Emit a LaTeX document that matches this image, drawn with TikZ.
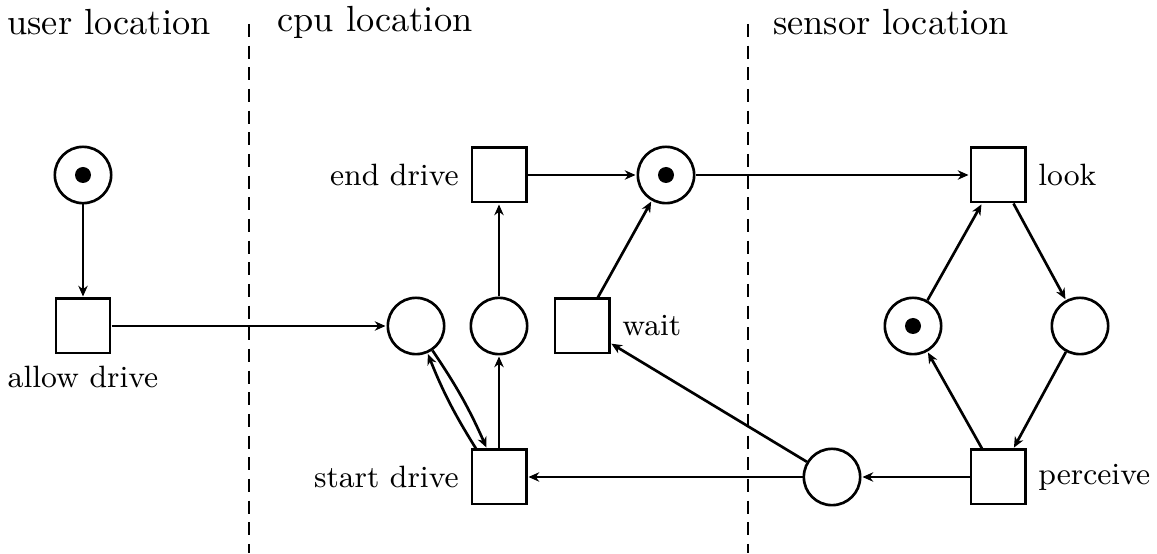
\documentclass[tikz,border=0pt]{standalone}
\usetikzlibrary{arrows.meta}
\tikzset{place/.style={
  circle,
  draw,thick,
  inner sep=0pt,minimum size=16.9pt}}
\tikzset{transition/.style={
  rectangle,
  draw,thick,
  inner sep=0pt,minimum size=16.3pt}}
\tikzset{token/.style={
  circle,fill,inner sep=0pt,minimum size=4.8pt}}
\tikzset{>={Stealth[length=3.2pt,width=2.8pt,inset=1pt]}}
\tikzset{shorten >=0.3pt}

\begin{document}
\begin{tikzpicture}[x={(0.3pt,0pt)},y={(0pt,-0.3pt)},
    font=\fontsize{10.9pt}{13pt}\selectfont,
    every label/.style={font=\fontsize{9.25pt}{11pt}\selectfont}]
  \useasboundingbox (0,0) rectangle (1157,554);
  % locations
  \foreach \n/\p/\l in {
      user/{(109,22)}/{user location},
      cpu/{(375,22)}/{cpu location},
      sensor/{(891,22)}/{sensor location}}
    \node (\n) at \p {\l};
  \draw[thick,dash pattern=on 3.9pt off 2.6pt] (249,24) -- (249,554);
  \draw[thick,dash pattern=on 3.9pt off 2.6pt] (748,24) -- (748,554);
  % places
  \foreach \n/\p in {
      pu/{(83,175)}, pa/{(416,326)}, pb/{(499,326)}, pc/{(666,175)},
      pd/{(913,326)}, pe/{(1080,326)}, pf/{(832,477)}}
    \node[place] (\n) at \p {};
  \foreach \n in {pu,pc,pd}
    \node[token] at (\n) {};
  % transitions
  \foreach \n/\p/\d/\l in {
      allow/{(83,326)}/below/{allow drive},
      end/{(499,175)}/left/{end drive},
      wait/{(582,326)}/right/{wait},
      start/{(499,477)}/left/{start drive},
      look/{(998,175)}/right/{look},
      perceive/{(998,477)}/right/{perceive}}
    \node[transition,label={\d:\l}] (\n) at \p {};
  % arcs
  \foreach \m/\n in {pu/allow,allow/pa,start/pb,pb/end,end/pc,wait/pc,
      pc/look,look/pe,pe/perceive,perceive/pd,pd/look,perceive/pf,
      pf/start,pf/wait}
    \draw[thick,->] (\m) -- (\n);
  \draw[thick,->] (start.129) to[bend left=5] (pa.-67);
  \draw[thick,->] (pa.-56) to[bend left=5] (start.113);
\end{tikzpicture}
\end{document}
